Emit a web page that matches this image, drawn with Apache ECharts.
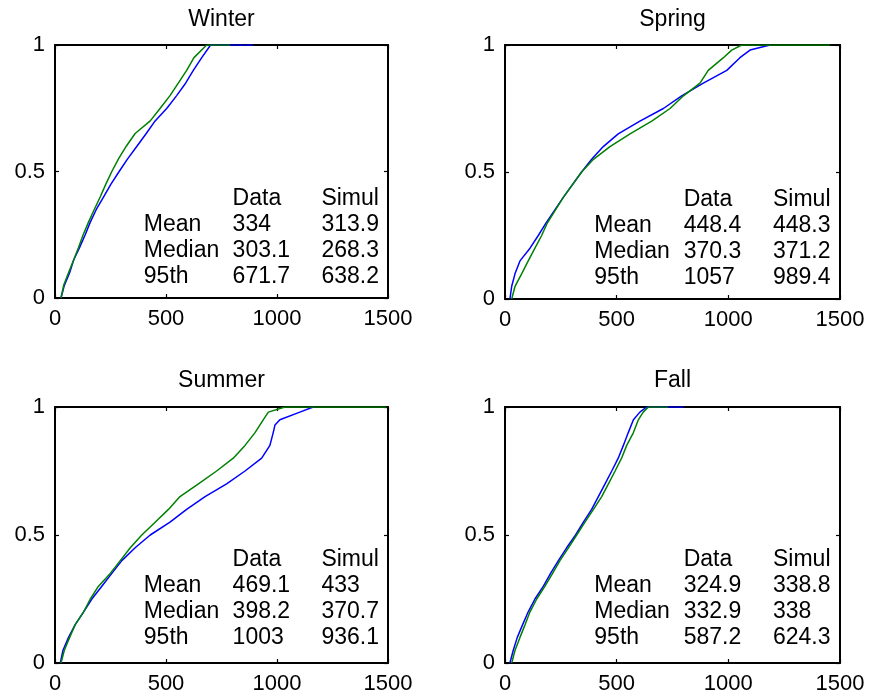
<!DOCTYPE html>
<html><head><meta charset="utf-8">
<script src="https://cdn.jsdelivr.net/npm/echarts@6/dist/echarts.min.js"></script>
<style>html,body{margin:0;padding:0;background:#fff}#c{width:870px;height:700px}</style>
</head><body><div id="c"></div>
<script>
// ---- data ----
const panelTitles = ['Winter', 'Spring', 'Summer', 'Fall'];
const xTicks = [0, 500, 1000, 1500];
const yTicks = [0, 0.5, 1];

const winterData = [[27,0],[42,0.05],[66,0.1],[84,0.15],[111,0.2],[136,0.25],[159,0.3],[186,0.35],[219,0.4],[252,0.45],[289,0.5],[327,0.55],[369,0.6],[411,0.65],[451,0.7],[504,0.75],[548,0.8],[589,0.85],[623,0.9],[661,0.95],[701,1],[893,1]];
const winterSimul = [[27,0],[39,0.05],[61,0.1],[84,0.15],[106,0.2],[127,0.25],[151,0.3],[177,0.35],[204,0.4],[229,0.45],[256,0.5],[286,0.55],[321,0.6],[361,0.65],[429,0.7],[474,0.75],[518,0.8],[556,0.85],[593,0.9],[626,0.95],[683,1],[788,1]];

const springData = [[22,0],[30,0.05],[45,0.1],[67,0.15],[112,0.2],[149,0.25],[184,0.3],[261,0.4],[343,0.5],[388,0.55],[440,0.6],[507,0.65],[604,0.7],[709,0.75],[791,0.8],[888,0.85],[993,0.9],[1052,0.95],[1097,0.98],[1187,1]];
const springSimul = [[30,0],[45,0.05],[75,0.1],[104,0.15],[134,0.2],[164,0.25],[190,0.3],[261,0.4],[343,0.5],[396,0.55],[470,0.6],[560,0.65],[657,0.7],[739,0.75],[799,0.8],[873,0.85],[910,0.9],[978,0.95],[1015,0.98],[1060,1],[1455,1]];

const summerData = [[24,0],[36,0.05],[61,0.1],[91,0.15],[129,0.2],[166,0.25],[211,0.3],[256,0.35],[301,0.4],[361,0.45],[429,0.5],[518,0.55],[593,0.6],[676,0.65],[773,0.7],[856,0.75],[931,0.8],[968,0.85],[983,0.9],[991,0.93],[1013,0.95],[1103,0.98],[1163,1]];
const summerSimul = [[27,0],[42,0.05],[66,0.1],[91,0.15],[129,0.2],[159,0.25],[196,0.3],[249,0.35],[294,0.4],[339,0.45],[391,0.5],[451,0.55],[511,0.6],[563,0.65],[646,0.7],[728,0.75],[803,0.8],[856,0.85],[901,0.9],[938,0.95],[961,0.98],[1036,1],[1493,1]];

const fallData = [[22,0],[37,0.05],[55,0.1],[79,0.15],[104,0.2],[134,0.25],[172,0.3],[204,0.35],[239,0.4],[276,0.45],[316,0.5],[351,0.55],[388,0.6],[418,0.65],[448,0.7],[478,0.75],[507,0.8],[530,0.85],[552,0.9],[575,0.95],[604,0.98],[634,1],[799,1]];
const fallSimul = [[30,0],[45,0.05],[67,0.1],[90,0.15],[112,0.2],[142,0.25],[179,0.3],[213,0.35],[246,0.4],[284,0.45],[321,0.5],[358,0.55],[396,0.6],[433,0.65],[463,0.7],[493,0.75],[522,0.8],[545,0.85],[575,0.9],[597,0.95],[619,0.98],[642,1],[731,1]];

// statistics tables
const statRows = ['Mean', 'Median', '95th'];
const statCols = ['Data', 'Simul'];
const winterStats = [['334', '313.9'], ['303.1', '268.3'], ['671.7', '638.2']];
const springStats = [['448.4', '448.3'], ['370.3', '371.2'], ['1057', '989.4']];
const summerStats = [['469.1', '433'], ['398.2', '370.7'], ['1003', '936.1']];
const fallStats = [['324.9', '338.8'], ['332.9', '338'], ['587.2', '624.3']];

// ---- layout / style ----
const dataSets = [[winterData, winterSimul], [springData, springSimul], [summerData, summerSimul], [fallData, fallSimul]];
const statSets = [winterStats, springStats, summerStats, fallStats];
const grids = [
  {left: 55, top: 45, width: 333, height: 253},
  {left: 505, top: 45, width: 335, height: 254},
  {left: 55, top: 407, width: 333, height: 256},
  {left: 505, top: 407, width: 335, height: 256}
];
const FONT = '"Liberation Sans", Arial, Helvetica, sans-serif';
const colData = '#0000ff', colSimul = '#008000';

const xAxes = [], yAxes = [], series = [];
grids.forEach((g, i) => {
  const axLine = {show: true, onZero: false, lineStyle: {color: '#000', width: 2}};
  const tick = {show: true, inside: true, length: 4, lineStyle: {color: '#000', width: 1.2}};
  const lbl = {show: true, color: '#000', fontSize: 22, fontFamily: FONT, formatter: v => String(v)};
  xAxes.push({gridIndex: i, type: 'value', position: 'bottom', min: xTicks[0], max: xTicks[xTicks.length - 1], interval: xTicks[1] - xTicks[0],
    axisLine: axLine, axisTick: tick, splitLine: {show: false}, axisLabel: Object.assign({margin: 10}, lbl)});
  xAxes.push({gridIndex: i, type: 'value', position: 'top', min: xTicks[0], max: xTicks[xTicks.length - 1], interval: xTicks[1] - xTicks[0],
    axisLine: axLine, axisTick: tick, splitLine: {show: false}, axisLabel: {show: false}});
  yAxes.push({gridIndex: i, type: 'value', position: 'left', min: yTicks[0], max: yTicks[yTicks.length - 1], interval: yTicks[1] - yTicks[0],
    axisLine: axLine, axisTick: tick, splitLine: {show: false}, axisLabel: Object.assign({margin: 10}, lbl)});
  yAxes.push({gridIndex: i, type: 'value', position: 'right', min: yTicks[0], max: yTicks[yTicks.length - 1], interval: yTicks[1] - yTicks[0],
    axisLine: axLine, axisTick: tick, splitLine: {show: false}, axisLabel: {show: false}});
  const [d, s] = dataSets[i];
  series.push({type: 'line', xAxisIndex: 2 * i, yAxisIndex: 2 * i, data: d, showSymbol: false, symbol: 'none',
    lineStyle: {color: colData, width: 1.5}, itemStyle: {color: colData}, z: 3, animation: false, silent: true});
  series.push({type: 'line', xAxisIndex: 2 * i, yAxisIndex: 2 * i, data: s, showSymbol: false, symbol: 'none',
    lineStyle: {color: colSimul, width: 1.5}, itemStyle: {color: colSimul}, z: 4, animation: false, silent: true});
});

const chart = echarts.init(document.getElementById('c'), null, {renderer: 'canvas'});
chart.setOption({
  backgroundColor: '#fff',
  animation: false,
  grid: grids.map(g => Object.assign({containLabel: false}, g)),
  xAxis: xAxes,
  yAxis: yAxes,
  series: series
});

// texts (titles and tables), positioned from the axes
function txt(str, x, y, size, align) {
  return {type: 'text', x: x, y: y, silent: true, z: 10,
    style: {text: str, font: size + 'px ' + FONT, fill: '#000',
      align: align, verticalAlign: 'middle', textAlign: align, textVerticalAlign: 'middle'}};
}
const elements = [];
const titleY = [20, 20, 381, 381];
const colX = [400, 800, 1200];      // column anchors in data units
const rowOffsets = [-78, -52, -26, 0]; // pixel offsets of rows (header, Mean, Median, 95th)
const rowBaseP = [0.083, 0.083, 0.1, 0.1];
grids.forEach((g, i) => {
  elements.push(txt(panelTitles[i], g.left + g.width / 2, titleY[i], 23, 'center'));
  const base = chart.convertToPixel({gridIndex: i}, [0, rowBaseP[i]]);
  const cx = colX.map(v => chart.convertToPixel({gridIndex: i}, [v, 0])[0]);
  elements.push(txt(statCols[0], cx[1], base[1] + rowOffsets[0], 23, 'left'));
  elements.push(txt(statCols[1], cx[2], base[1] + rowOffsets[0], 23, 'left'));
  statRows.forEach((r, k) => {
    const y = base[1] + rowOffsets[k + 1];
    elements.push(txt(r, cx[0], y, 23, 'left'));
    elements.push(txt(statSets[i][k][0], cx[1], y, 23, 'left'));
    elements.push(txt(statSets[i][k][1], cx[2], y, 23, 'left'));
  });
});
chart.setOption({graphic: {elements: elements}});
</script>
</body></html>
